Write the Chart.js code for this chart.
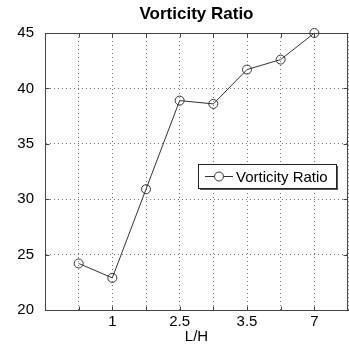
<!DOCTYPE html>
<html>
<head>
<meta charset="utf-8">
<script src="https://cdn.jsdelivr.net/npm/chart.js@4/dist/chart.umd.min.js"></script>
<style>
  html, body { margin: 0; padding: 0; background: #fff; }
  #wrap { width: 349px; height: 346px; }
</style>
</head>
<body>
<div id="wrap"><canvas id="chart" width="349" height="346"></canvas></div>
<script>
"use strict";

// x categories (only every other one is labelled in the original), padded at both ends
var categories = ['', '', '1', '', '2.5', '', '3.5', '', '7', ''];
var vorticityRatio = [null, 24.2, 22.9, 30.9, 38.9, 38.6, 41.7, 42.6, 45.0, null];
var yTicks = [20, 25, 30, 35, 40, 45];
var chartTitle = 'Vorticity Ratio';

var FONT = 'Arial, "Liberation Sans", sans-serif';

// title centred over the plot, frame, small inward ticks, legend box inside the plot
var framePlugin = {
  id: 'frame',
  afterDraw: function(chart) {
    var ctx = chart.ctx;
    var a = chart.chartArea;
    ctx.save();

    ctx.fillStyle = '#000';
    ctx.font = 'bold 17px ' + FONT;
    ctx.textAlign = 'center';
    ctx.textBaseline = 'middle';
    ctx.fillText(chartTitle, (a.left + a.right) / 2, 14);

    ctx.strokeStyle = '#444';
    ctx.lineWidth = 1;
    var l = Math.round(a.left) + 0.5, t = Math.round(a.top) + 0.5;
    var r = Math.round(a.right) - 0.5, b = Math.round(a.bottom) + 0.5;
    ctx.strokeRect(l, t, r - l, b - t);

    // inward tick marks
    ctx.beginPath();
    var xs = chart.scales.x;
    for (var i = 1; i < categories.length - 1; i++) {
      var px = Math.round(xs.getPixelForTick(i)) + 0.5;
      ctx.moveTo(px, b); ctx.lineTo(px, b - 4);
      ctx.moveTo(px, t); ctx.lineTo(px, t + 4);
    }
    var ys = chart.scales.y;
    for (var j = 1; j < yTicks.length - 1; j++) {
      var py = Math.round(ys.getPixelForValue(yTicks[j])) + 0.5;
      ctx.moveTo(l, py); ctx.lineTo(l + 4, py);
      ctx.moveTo(r, py); ctx.lineTo(r - 4, py);
    }
    ctx.stroke();

    // legend
    var ds = chart.data.datasets[0];
    var bx = 198, by = 164, bw = 138, bh = 24;
    ctx.textAlign = 'left';
    ctx.fillStyle = '#555';
    ctx.fillRect(bx + 2, by + 2, bw, bh);
    ctx.fillStyle = '#fff';
    ctx.fillRect(bx, by, bw, bh);
    ctx.strokeStyle = '#222';
    ctx.strokeRect(bx + 0.5, by + 0.5, bw, bh);
    var ly = by + bh / 2 + 0.5;
    ctx.strokeStyle = ds.borderColor;
    ctx.beginPath();
    ctx.moveTo(bx + 7, ly);
    ctx.lineTo(bx + 35, ly);
    ctx.stroke();
    ctx.beginPath();
    ctx.arc(bx + 21, ly, 4.5, 0, Math.PI * 2);
    ctx.fillStyle = '#fff';
    ctx.fill();
    ctx.stroke();
    ctx.fillStyle = '#000';
    ctx.font = '15px ' + FONT;
    ctx.fillText(ds.label, bx + 38, ly + 1);
    ctx.restore();
  }
};

new Chart(document.getElementById('chart'), {
  type: 'line',
  data: {
    labels: categories,
    datasets: [{
      label: 'Vorticity Ratio',
      data: vorticityRatio,
      borderColor: '#333',
      borderWidth: 1,
      backgroundColor: 'rgba(255,255,255,0)',
      pointRadius: 4.5,
      pointBorderWidth: 1,
      pointBorderColor: '#333',
      pointBackgroundColor: 'rgba(255,255,255,0)',
      tension: 0,
      clip: false
    }]
  },
  options: {
    responsive: false,
    animation: false,
    layout: { autoPadding: false, padding: { left: 0, right: 1, top: 33, bottom: 0 } },
    plugins: {
      legend: { display: false },
      tooltip: { enabled: false },
      title: { display: false }
    },
    scales: {
      x: {
        type: 'category',
        offset: false,
        grid: { color: '#777', lineWidth: 1, drawTicks: false },
        border: { display: true, color: '#444', dash: [1, 3] },
        ticks: {
          autoSkip: false,
          maxRotation: 0,
          color: '#000',
          padding: 3,
          font: { family: FONT, size: 15 }
        },
        title: {
          display: true,
          text: 'L/H',
          color: '#000',
          padding: { top: -4, bottom: 0 },
          font: { family: FONT, size: 15 }
        },
        afterFit: function(scale) {
          scale.height = 36;
          scale.paddingLeft = 0;
          scale.paddingRight = 0;
        }
      },
      y: {
        min: 20,
        max: 45,
        afterBuildTicks: function(scale) {
          scale.ticks = yTicks.map(function(v) { return { value: v }; });
        },
        grid: { color: '#777', lineWidth: 1, drawTicks: false },
        border: { display: true, color: '#444', dash: [1, 3] },
        ticks: {
          color: '#000',
          padding: 11,
          font: { family: FONT, size: 15 }
        },
        afterFit: function(scale) { scale.width = 45; }
      }
    }
  },
  plugins: [framePlugin]
});
</script>
</body>
</html>
